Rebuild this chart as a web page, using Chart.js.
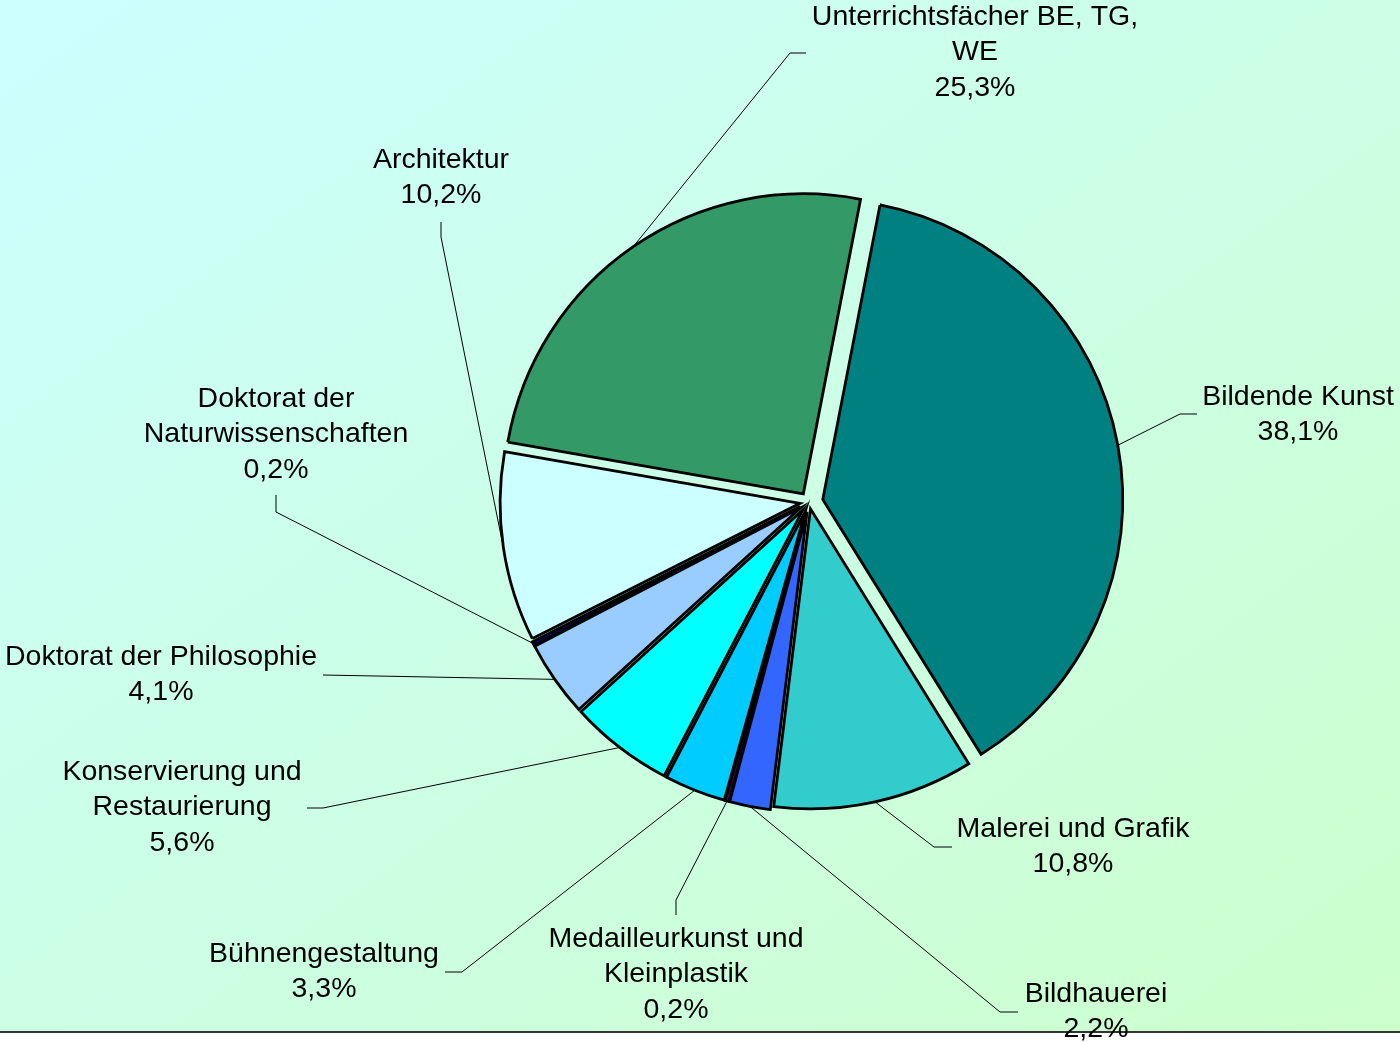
<!DOCTYPE html>
<html>
<head>
<meta charset="utf-8">
<script src="https://cdn.jsdelivr.net/npm/chart.js@4"></script>
<style>
  html, body { margin: 0; padding: 0; background: #fff; }
  #bg {
    position: absolute; left: 0; top: 0; width: 1400px; height: 1031px;
    background: linear-gradient(to bottom right, #ccffff, #ccffcc);
    border-bottom: 2px solid #333;
  }
  #myChart { position: absolute; left: 0; top: 0; }
</style>
</head>
<body>
<div id="bg"></div>
<canvas id="myChart" width="1400" height="1042"></canvas>
<script>
// categories, clockwise from the top
const categories = [
  ['Bildende Kunst'],
  ['Malerei und Grafik'],
  ['Bildhauerei'],
  ['Medailleurkunst und', 'Kleinplastik'],
  ['Bühnengestaltung'],
  ['Konservierung und', 'Restaurierung'],
  ['Doktorat der Philosophie'],
  ['Doktorat der', 'Naturwissenschaften'],
  ['Architektur'],
  ['Unterrichtsfächer BE, TG,', 'WE']
];
const shares = [38.1, 10.8, 2.2, 0.2, 3.3, 5.6, 4.1, 0.2, 10.2, 25.3];

const colors = ['#008080', '#33CCCC', '#3366FF', '#660066', '#00CCFF',
                '#00FFFF', '#99CCFF', '#000080', '#CCFFFF', '#339966'];
// explode distance of each slice in px
const explode = [14, 7, 10, 10, 10, 10, 10, 10, 9, 10];

// label layout: text centre x, first line centre y, leader elbow and end
const labelLayout = [
  { x: 1298, y: 397, elbow: [1180, 414], end: [1197, 414] },
  { x: 1073, y: 829, elbow: [934, 847], end: [952, 847] },
  { x: 1096, y: 994, elbow: [1000, 1012], end: [1018, 1012] },
  { x: 676, y: 939, elbow: [676, 900], end: [676, 915] },
  { x: 324, y: 954, elbow: [462, 972], end: [445, 972] },
  { x: 182, y: 772, elbow: [323, 808], end: [307, 808] },
  { x: 161, y: 657, elbow: [323, 675], end: [323, 675] },
  { x: 276, y: 399, elbow: [276, 512], end: [276, 495] },
  { x: 441, y: 160, elbow: [441, 237], end: [441, 222] },
  { x: 975, y: 17, elbow: [790, 53], end: [806, 53] }
];

// plain translation for exploded slices (no radius growth, no /4 scaling)
const arcDraw = Chart.ArcElement.prototype.draw;
Chart.ArcElement.prototype.draw = function (ctx) {
  const o = this.options.offset || 0;
  const mid = (this.startAngle + this.endAngle) / 2;
  ctx.save();
  ctx.translate(Math.cos(mid) * o, Math.sin(mid) * o);
  this.options.offset = 0;
  arcDraw.call(this, ctx);
  this.options.offset = o;
  ctx.restore();
};

const sliceLabels = {
  id: 'sliceLabels',
  afterDatasetsDraw(chart) {
    const ctx = chart.ctx;
    const meta = chart.getDatasetMeta(0);
    ctx.save();
    meta.data.forEach((arc, i) => {
      const p = arc.getProps(['x', 'y', 'startAngle', 'endAngle', 'outerRadius'], true);
      const mid = (p.startAngle + p.endAngle) / 2;
      const r = p.outerRadius + explode[i];
      const sx = p.x + Math.cos(mid) * r;
      const sy = p.y + Math.sin(mid) * r;
      const lay = labelLayout[i];

      ctx.strokeStyle = '#000';
      ctx.lineWidth = 1;
      ctx.beginPath();
      ctx.moveTo(sx, sy);
      ctx.lineTo(lay.elbow[0], lay.elbow[1]);
      ctx.lineTo(lay.end[0], lay.end[1]);
      ctx.stroke();

      const lines = categories[i].concat([shares[i].toFixed(1).replace('.', ',') + '%']);
      ctx.fillStyle = '#000';
      ctx.font = '28.5px "Liberation Sans", Arial, sans-serif';
      ctx.textAlign = 'center';
      ctx.textBaseline = 'middle';
      lines.forEach((t, k) => ctx.fillText(t, lay.x, lay.y + k * 35.5));
    });
    ctx.restore();
  }
};

const ctx = document.getElementById('myChart').getContext('2d');
const myChart = new Chart(ctx, {
  type: 'pie',
  data: {
    labels: categories.map(c => c.join(' ')),
    datasets: [{
      data: shares,
      backgroundColor: colors,
      borderColor: '#000',
      borderWidth: 2.8,
      borderJoinStyle: 'miter',
      offset: explode
    }]
  },
  options: {
    responsive: false,
    animation: false,
    devicePixelRatio: 1,
    rotation: 11,
    radius: 300,
    layout: { padding: { left: 218, right: 0, top: 0, bottom: 38 } },
    plugins: {
      legend: { display: false },
      tooltip: { enabled: false }
    }
  },
  plugins: [sliceLabels]
});
</script>
</body>
</html>
